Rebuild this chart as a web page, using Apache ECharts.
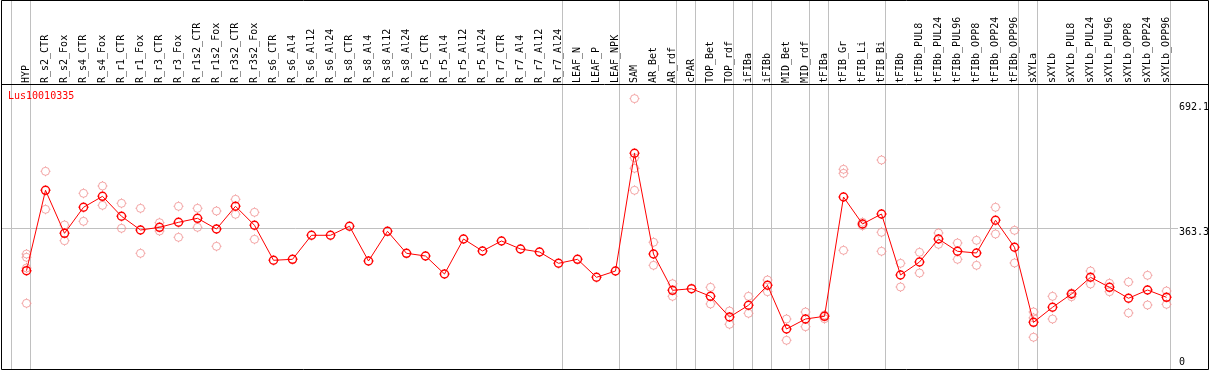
<!DOCTYPE html>
<html>
<head>
<meta charset="utf-8">
<script src="https://cdn.jsdelivr.net/npm/echarts@6.0.0/dist/echarts.min.js"></script>
<style>
  html, body { margin: 0; padding: 0; background: #fff; }
  #chart { width: 1209px; height: 370px; }
</style>
</head>
<body>
<div id="chart"></div>
<script>
// ---------------- data ----------------
const title = 'Lus10010335';
const categories = [
  'HYP','R_s2_CTR','R_s2_Fox','R_s4_CTR','R_s4_Fox','R_r1_CTR','R_r1_Fox','R_r3_CTR','R_r3_Fox',
  'R_r1s2_CTR','R_r1s2_Fox','R_r3s2_CTR','R_r3s2_Fox','R_s6_CTR','R_s6_Al4','R_s6_Al12','R_s6_Al24',
  'R_s8_CTR','R_s8_Al4','R_s8_Al12','R_s8_Al24','R_r5_CTR','R_r5_Al4','R_r5_Al12','R_r5_Al24',
  'R_r7_CTR','R_r7_Al4','R_r7_Al12','R_r7_Al24','LEAF_N','LEAF_P','LEAF_NPK','SAM','AR_Bet','AR_rdf',
  'cPAR','TOP_Bet','TOP_rdf','iFIBa','iFIBb','MID_Bet','MID_rdf','tFIBa','tFIB_Gr','tFIB_Li','tFIB_Bi',
  'tFIBb','tFIBb_PUL8','tFIBb_PUL24','tFIBb_PUL96','tFIBb_OPP8','tFIBb_OPP24','tFIBb_OPP96',
  'sXYLa','sXYLb','sXYLb_PUL8','sXYLb_PUL24','sXYLb_PUL96','sXYLb_OPP8','sXYLb_OPP24','sXYLb_OPP96'
];
const meanValues = [
  256.5, 460.0, 351.1, 417.0, 444.8, 394.2, 359.5, 366.3, 379.0,
  389.1, 362.0, 419.5, 371.4, 282.8, 285.3, 346.1, 346.1,
  368.9, 281.0, 356.2, 300.5, 293.7, 248.1, 336.7, 306.3,
  331.7, 311.4, 303.8, 275.2, 285.3, 239.8, 255.7, 553.7, 298.7, 206.8,
  210.9, 191.6, 139.2, 168.9, 219.5, 108.9, 134.2, 141.0, 443.0, 374.7, 400.0,
  245.6, 278.5, 336.7, 305.6, 301.3, 384.1, 315.7,
  125.8, 163.8, 197.5, 239.8, 214.4, 186.6, 207.6, 189.1
];
const replicateValues = [
  [298.7, 290.4, 263.3, 173.9], [508.1, 411.9], [372.2, 332.4], [452.4, 381.5], [470.9, 422.0],
  [427.1, 363.8], [414.4, 300.5], [378.0, 357.0], [419.5, 341.0],
  [414.4, 366.3], [407.6, 318.2], [437.2, 399.3], [404.3, 336.0], [], [], [], [],
  [], [], [], [], [], [], [], [],
  [], [], [], [], [], [], [], [692.1, 542.5, 515.7, 460.0], [328.4, 270.1], [223.5, 191.6],
  [], [214.4, 172.2], [154.4, 120.8], [191.6, 148.6], [232.9, 203.3], [134.2, 80.3], [151.9, 114.7],
  [144.3, 134.9], [513.2, 503.0, 308.1], [379.0, 370.4], [536.7, 353.7, 305.6],
  [275.2, 215.2], [303.0, 250.6], [351.9, 323.3], [326.6, 285.3], [333.4, 270.1], [417.0, 349.4], [358.7, 276.0],
  [152.0, 137.0, 88.0], [191.6, 134.2], [200.0, 190.6], [255.7, 222.8], [224.6, 203.3], [227.9, 149.4],
  [244.8, 169.6], [205.1, 171.4]
];
// group separators: drawn just after these category indices
const separatorAfter = [-1, 0, 28, 31, 34, 35, 37, 38, 39, 41, 42, 45, 52, 53, 60];
// value labels shown on the right
const valueTicks = [0, 363.3, 692.1];
const referenceValue = 363.3;
const valueMax = 726.6;

// ---------------- chart ----------------
const FONT = 'DejaVu Sans Mono';
const marker = 'path://M-4,0A4,4,0,1,0,4,0A4,4,0,1,0,-4,0ZM0,-4L0,-5M0,4L0,5M-4,0L-5,0M4,0L5,0';

const meanData = meanValues.map((v, i) => [i, v]);
const repData = [];
replicateValues.forEach((arr, i) => arr.forEach(v => repData.push([i, v])));

const sepLines = separatorAfter.map(j => [
  { xAxis: j + 4 / 19, y: 0 },
  { xAxis: j + 4 / 19, y: 369 }
]);

const chart = echarts.init(document.getElementById('chart'), null, { renderer: 'canvas' });
chart.setOption({
  animation: false,
  backgroundColor: '#fff',
  title: {
    text: title,
    left: 8, top: 91, padding: 0,
    textStyle: { color: '#ff0000', fontSize: 10, fontWeight: 'normal', fontFamily: FONT }
  },
  grid: {
    left: 1, top: 85, width: 1177, height: 287,
    containLabel: false, outerBoundsMode: 'none'
  },
  xAxis: {
    type: 'value',
    position: 'top',
    min: -25.5 / 19,
    max: 1177 / 19 - 25.5 / 19,
    axisLine: { show: false },
    axisTick: { show: false },
    splitLine: { show: false },
    axisLabel: {
      customValues: categories.map((c, i) => i),
      formatter: v => categories[Math.round(v)] || '',
      rotate: 90,
      margin: 2,
      fontFamily: FONT,
      fontSize: 10,
      color: '#000'
    }
  },
  yAxis: {
    type: 'value',
    position: 'right',
    min: 0,
    max: valueMax,
    axisLine: { show: false },
    axisTick: { show: false },
    splitLine: { show: false },
    axisLabel: {
      customValues: valueTicks,
      margin: 1,
      verticalAlign: 'middle',
      formatter: v => {
        if (v === 0) return '{c|0}';
        if (v === valueTicks[1]) return '{b|' + v + '}';
        return '{a|' + v + '}';
      },
      rich: {
        a: { fontFamily: FONT, fontSize: 10, color: '#000', padding: [17, 0, 0, 0] },
        b: { fontFamily: FONT, fontSize: 10, color: '#000', padding: [7, 0, 0, 0] },
        c: { fontFamily: FONT, fontSize: 10, color: '#000', padding: [0, 0, 19, 0] }
      }
    }
  },
  series: [
    {
      name: 'guides',
      type: 'line',
      data: [],
      clip: false,
      silent: true,
      markLine: {
        z: 1,
        silent: true,
        symbol: ['none', 'none'],
        label: { show: false },
        lineStyle: { color: '#c0c0c0', width: 1, type: 'solid' },
        emphasis: { disabled: true },
        data: sepLines.concat([{ yAxis: referenceValue }])
      }
    },
    {
      name: 'replicates',
      type: 'scatter',
      data: repData,
      symbol: marker,
      symbolSize: 10,
      z: 3,
      silent: true,
      itemStyle: { color: 'rgba(0,0,0,0)', borderColor: '#f09090', borderWidth: 1 }
    },
    {
      name: 'mean',
      type: 'line',
      data: meanData,
      symbol: marker,
      symbolSize: 10,
      showAllSymbol: true,
      z: 4,
      silent: true,
      lineStyle: { color: '#ff0000', width: 1 },
      itemStyle: { color: 'rgba(0,0,0,0)', borderColor: '#ff0000', borderWidth: 1.4 }
    }
  ],
  graphic: [
    {
      type: 'rect', z: 100, silent: true,
      shape: { x: 1.5, y: 0.5, width: 1207, height: 369 },
      style: { fill: 'none', stroke: '#000', lineWidth: 1 }
    },
    {
      type: 'line', z: 100, silent: true,
      shape: { x1: 1, y1: 84.5, x2: 1208, y2: 84.5 },
      style: { stroke: '#000', lineWidth: 1 }
    }
  ]
});
</script>
</body>
</html>
